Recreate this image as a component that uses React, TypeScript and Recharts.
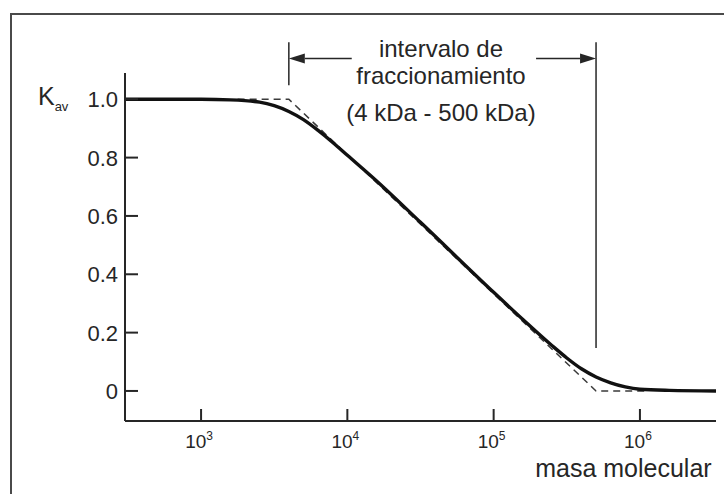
import { LineChart, Line, XAxis, YAxis, ReferenceLine, ReferenceDot } from "recharts";

// log10 of molecular mass vs Kav
const FIT_LOGM = [2.48, 3.0, 3.2, 3.4, 3.5, 3.6, 3.7, 3.8, 3.9, 4.0, 4.2, 4.5, 5.0, 5.2, 5.4, 5.5, 5.6, 5.7, 5.8, 5.9, 6.0, 6.2, 6.52];
const FIT_KAV = [1.0, 1.0, 0.998, 0.99, 0.978, 0.958, 0.93, 0.893, 0.852, 0.808, 0.72, 0.578, 0.338, 0.245, 0.155, 0.113, 0.076, 0.048, 0.028, 0.014, 0.006, 0.002, 0.0];

// idealised piecewise line (dashed)
const IDEAL_LOGM = [3.25, 3.6, 5.7, 6.05];
const IDEAL_KAV = [1.0, 1.0, 0.0, 0.0];

const Y_TICKS = [0, 0.2, 0.4, 0.6, 0.8, 1.0];
const Y_LABELS = ["0", "0.2", "0.4", "0.6", "0.8", "1.0"];
const X_TICKS = [3, 4, 5, 6];

// fractionation range: 4 kDa - 500 kDa
const RANGE_LOW = 3.6;
const RANGE_HIGH = 5.7;
const RANGE_TEXT = ["intervalo de", "fraccionamiento", "(4 kDa - 500 kDa)"];

const fitData = FIT_LOGM.map((m, i) => ({ logM: m, kav: FIT_KAV[i] }));
const idealData = IDEAL_LOGM.map((m, i) => ({ logM: m, kav: IDEAL_KAV[i] }));

const INK = "#262626";
const FONT = "'Liberation Sans', Arial, sans-serif";

function YTick(props: any) {
  const { x, y, payload } = props;
  const idx = Y_TICKS.indexOf(payload.value);
  return (
    <g>
      <line x1={x} x2={x + 13} y1={y} y2={y} stroke={INK} strokeWidth={2} />
      <text x={x - 7} y={y} dy="0.36em" textAnchor="end" fontSize={22} fill={INK} fontFamily={FONT}>
        {Y_LABELS[idx] ?? payload.value}
      </text>
    </g>
  );
}

function XTick(props: any) {
  const { x, y, payload } = props;
  return (
    <g>
      <line x1={x} x2={x} y1={y} y2={y - 12} stroke={INK} strokeWidth={2} />
      <text x={x - 2} y={y + 27} textAnchor="middle" fontSize={19} fill={INK} fontFamily={FONT}>
        10
        <tspan dy={-8} fontSize={12}>{payload.value}</tspan>
      </text>
    </g>
  );
}

function arrowShape(props: any) {
  const { x1, y1, x2, y2 } = props;
  const dir = x2 > x1 ? 1 : -1;
  const len = 16;
  const half = 5;
  return (
    <g>
      <line x1={x1} y1={y1} x2={x2 - dir * len} y2={y2} stroke={INK} strokeWidth={1.5} />
      <polygon points={`${x2},${y2} ${x2 - dir * len},${y2 - half} ${x2 - dir * len},${y2 + half}`} fill={INK} />
    </g>
  );
}

function textShape(text: string, size: number, anchor: "start" | "middle" | "end") {
  return (props: any) => (
    <text x={props.cx} y={props.cy} dy="0.36em" textAnchor={anchor} fontSize={size} fill={INK} fontFamily={FONT}>
      {text}
    </text>
  );
}

function kavShape(props: any) {
  return (
    <text x={props.cx} y={props.cy} dy="0.36em" fill={INK} fontFamily={FONT}>
      <tspan fontSize={25}>K</tspan>
      <tspan fontSize={13} dy={6}>av</tspan>
    </text>
  );
}

export default function App() {
  return (
    <div style={{ position: "absolute", left: 0, top: 0, width: 724, height: 494, background: "#fff", overflow: "hidden" }}>
      <div
        style={{
          position: "absolute",
          left: 10,
          top: 13,
          width: 800,
          height: 600,
          borderLeft: "2px solid #4a4a4a",
          borderTop: "2px solid #4a4a4a",
        }}
      />
      <div style={{ position: "absolute", left: 0, top: 0 }}>
        <LineChart width={724} height={494} margin={{ top: 73, right: 8, bottom: 43, left: 65 }}>
          <XAxis
            type="number"
            dataKey="logM"
            domain={[2.48, 6.52]}
            allowDataOverflow
            ticks={X_TICKS}
            tick={<XTick />}
            tickLine={false}
            tickSize={0}
            tickMargin={0}
            axisLine={{ stroke: INK, strokeWidth: 2 }}
            height={30}
          />
          <YAxis
            type="number"
            dataKey="kav"
            domain={[-0.103, 1.09]}
            allowDataOverflow
            ticks={Y_TICKS}
            tick={<YTick />}
            tickLine={false}
            tickSize={0}
            tickMargin={0}
            axisLine={{ stroke: INK, strokeWidth: 2 }}
            width={60}
          />
          <Line
            data={idealData}
            dataKey="kav"
            type="linear"
            stroke="#3a3a3a"
            strokeWidth={1.5}
            strokeDasharray="7 5"
            dot={false}
            isAnimationActive={false}
          />
          <Line
            data={fitData}
            dataKey="kav"
            type="monotone"
            stroke="#111"
            strokeWidth={3.4}
            dot={false}
            isAnimationActive={false}
          />
          <ReferenceLine
            segment={[{ x: RANGE_LOW, y: 1.195 }, { x: RANGE_LOW, y: 1.048 }]}
            stroke={INK}
            strokeWidth={1.5}
            ifOverflow="visible"
          />
          <ReferenceLine
            segment={[{ x: RANGE_HIGH, y: 1.195 }, { x: RANGE_HIGH, y: 0.147 }]}
            stroke={INK}
            strokeWidth={1.5}
            ifOverflow="visible"
          />
          <ReferenceLine
            segment={[{ x: 4.03, y: 1.14 }, { x: RANGE_LOW, y: 1.14 }]}
            ifOverflow="visible"
            shape={arrowShape}
          />
          <ReferenceLine
            segment={[{ x: 5.29, y: 1.14 }, { x: RANGE_HIGH, y: 1.14 }]}
            ifOverflow="visible"
            shape={arrowShape}
          />
          <ReferenceDot x={4.64} y={1.175} r={1} ifOverflow="visible" shape={textShape(RANGE_TEXT[0], 24, "middle")} />
          <ReferenceDot x={4.64} y={1.082} r={1} ifOverflow="visible" shape={textShape(RANGE_TEXT[1], 24, "middle")} />
          <ReferenceDot x={4.64} y={0.955} r={1} ifOverflow="visible" shape={textShape(RANGE_TEXT[2], 24, "middle")} />
          <ReferenceDot x={6.49} y={-0.264} r={1} ifOverflow="visible" shape={textShape("masa molecular", 25, "end")} />
          <ReferenceDot x={1.885} y={1.0} r={1} ifOverflow="visible" shape={kavShape} />
        </LineChart>
      </div>
    </div>
  );
}
